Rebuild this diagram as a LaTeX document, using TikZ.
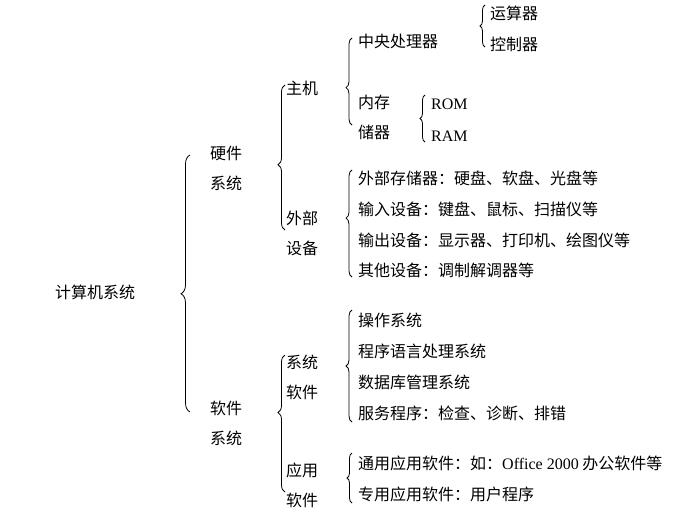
\documentclass[tikz,border=0pt]{standalone}
\usepackage{fontspec}
\setmainfont{Noto Sans CJK SC}
\newfontfamily\latinf{Liberation Serif}
\usetikzlibrary{decorations.pathreplacing}
\tikzset{
  br/.style={draw=black, line width=0.8pt, decorate, decoration={brace, amplitude=#1}},
  br/.default=6pt,
  lab/.style={font=\fontsize{16}{18}\selectfont, inner sep=0pt, anchor=west}
}
\begin{document}
\begin{tikzpicture}[x=1pt,y=-1pt]
\useasboundingbox[fill=white] (0,0) rectangle (700,512);
\node[lab] (root) at (55,292) {计算机系统};
\draw[br=9pt, decoration={aspect=0.46}] (190,412) -- (190,155);
\node[lab] (hw1) at (210,153) {硬件};
\node[lab] (hw2) at (210,183) {系统};
\node[lab] (sw1) at (210,408) {软件};
\node[lab] (sw2) at (210,438) {系统};
% hardware
\draw[br=7pt, decoration={aspect=0.45}] (285,230) -- (285,85);
\node[lab] (zj) at (286,88) {主机};
\node[lab] (wb1) at (286,218) {外部};
\node[lab] (wb2) at (286,248) {设备};
\draw[br=6pt, decoration={aspect=0.43}] (352,125) -- (352,38);
\node[lab] (cpu) at (358,41) {中央处理器};
\draw[br=5pt] (485,47) -- (485,5);
\node[lab] (ys) at (490,13) {运算器};
\node[lab] (kz) at (490,44) {控制器};
\node[lab] (nc1) at (358,102) {内存};
\node[lab] (nc2) at (358,132) {储器};
\draw[br=5pt] (425,142) -- (425,95);
\node[lab, font=\latinf\fontsize{16}{18}\selectfont] (rom) at (431,104) {ROM};
\node[lab, font=\latinf\fontsize{16}{18}\selectfont] (ram) at (431,136) {RAM};
\draw[br=6pt, decoration={aspect=0.55}] (352,277) -- (352,170);
\node[lab] (e1) at (358,178) {外部存储器：硬盘、软盘、光盘等};
\node[lab] (e2) at (358,209) {输入设备：键盘、鼠标、扫描仪等};
\node[lab] (e3) at (358,240) {输出设备：显示器、打印机、绘图仪等};
\node[lab] (e4) at (358,270) {其他设备：调制解调器等};
% software
\draw[br=7pt, decoration={aspect=0.58}] (285,492) -- (285,355);
\node[lab] (xt1) at (286,362) {系统};
\node[lab] (xt2) at (286,392) {软件};
\node[lab] (yy1) at (286,470) {应用};
\node[lab] (yy2) at (286,500) {软件};
\draw[br=6pt, decoration={aspect=0.5}] (352,422) -- (352,310);
\node[lab] (s1) at (358,320) {操作系统};
\node[lab] (s2) at (358,351) {程序语言处理系统};
\node[lab] (s3) at (358,382) {数据库管理系统};
\node[lab] (s4) at (358,413) {服务程序：检查、诊断、排错};
\draw[br=5pt] (352,503) -- (352,453);
\node[lab] (a1) at (358,463) {通用应用软件：如：{\latinf Office 2000} 办公软件等};
\node[lab] (a2) at (358,494) {专用应用软件：用户程序};
\end{tikzpicture}
\end{document}
